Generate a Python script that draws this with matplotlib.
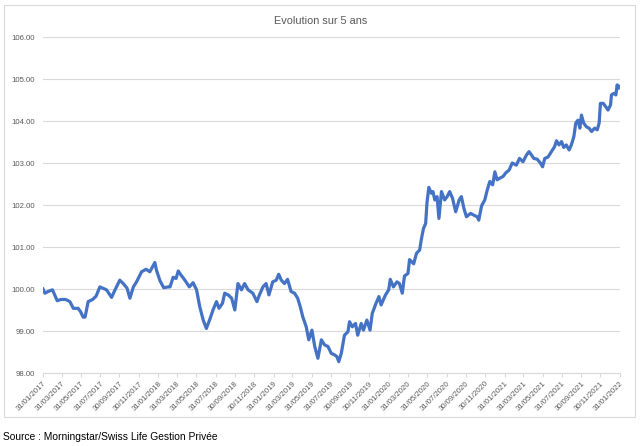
import matplotlib
matplotlib.use("Agg")
import matplotlib.pyplot as plt
from matplotlib.patches import Rectangle
import pandas as pd

plt.rcParams['font.family'] = ['Liberation Sans', 'DejaVu Sans']

# valeurs (base 100 au 31/01/2017)
dates = [
    "2017-01-31", "2017-02-06", "2017-02-16", "2017-03-02", "2017-03-06", "2017-03-17", "2017-03-28",
    "2017-04-13", "2017-04-26", "2017-05-07", "2017-05-22", "2017-05-30", "2017-06-07", "2017-06-13",
    "2017-06-23", "2017-07-07", "2017-07-18", "2017-07-30", "2017-08-08", "2017-08-20", "2017-09-05",
    "2017-09-16", "2017-10-01", "2017-10-12", "2017-10-24", "2017-11-02", "2017-11-13", "2017-11-23",
    "2017-12-09", "2017-12-23",
    "2018-01-04", "2018-01-20", "2018-01-25", "2018-02-05", "2018-02-17", "2018-03-03", "2018-03-09",
    "2018-03-19", "2018-03-28", "2018-04-04", "2018-04-11", "2018-04-25", "2018-05-09", "2018-05-21",
    "2018-06-01", "2018-06-11", "2018-06-22", "2018-07-02", "2018-07-13", "2018-07-23", "2018-08-03",
    "2018-08-11", "2018-08-22", "2018-08-29", "2018-09-09", "2018-09-20", "2018-09-30", "2018-10-10",
    "2018-10-21", "2018-10-31", "2018-11-11", "2018-11-26", "2018-12-09", "2018-12-17", "2018-12-28",
    "2019-01-07", "2019-01-16", "2019-01-28", "2019-02-08", "2019-02-16", "2019-02-24", "2019-03-06",
    "2019-03-16", "2019-03-27", "2019-04-07", "2019-04-17", "2019-04-25", "2019-05-03", "2019-05-14",
    "2019-05-22", "2019-06-01", "2019-06-10", "2019-06-20", "2019-07-01", "2019-07-11", "2019-07-22",
    "2019-08-01", "2019-08-12", "2019-08-19", "2019-08-25", "2019-09-02", "2019-09-12", "2019-09-23",
    "2019-09-28", "2019-10-07", "2019-10-17", "2019-10-24", "2019-11-04", "2019-11-11", "2019-11-22",
    "2019-12-02", "2019-12-09", "2019-12-21", "2019-12-30",
    "2020-01-06", "2020-01-20", "2020-01-30", "2020-02-04", "2020-02-14", "2020-02-25", "2020-03-04",
    "2020-03-13", "2020-03-20", "2020-03-31", "2020-04-05", "2020-04-18", "2020-04-27", "2020-05-07",
    "2020-05-12", "2020-05-19", "2020-05-26", "2020-05-30", "2020-06-05", "2020-06-13", "2020-06-18",
    "2020-06-24", "2020-07-01", "2020-07-07", "2020-07-15", "2020-07-25", "2020-08-02", "2020-08-10",
    "2020-08-19", "2020-08-29", "2020-09-09", "2020-09-16", "2020-09-24", "2020-10-02", "2020-10-15",
    "2020-10-25", "2020-11-05", "2020-11-10", "2020-11-19", "2020-11-29", "2020-12-07", "2020-12-15",
    "2020-12-24", "2020-12-31",
    "2021-01-07", "2021-01-16", "2021-01-26", "2021-02-04", "2021-02-14", "2021-02-24", "2021-03-09",
    "2021-03-19", "2021-03-30", "2021-04-10", "2021-04-18", "2021-04-26", "2021-05-03", "2021-05-14",
    "2021-05-24", "2021-05-31", "2021-06-07", "2021-06-17", "2021-06-28", "2021-07-08", "2021-07-14",
    "2021-07-22", "2021-07-30", "2021-08-06", "2021-08-14", "2021-08-23", "2021-08-30", "2021-09-07",
    "2021-09-13", "2021-09-20", "2021-09-26", "2021-10-01", "2021-10-08", "2021-10-17", "2021-10-25",
    "2021-11-02", "2021-11-12", "2021-11-20", "2021-11-26", "2021-11-30", "2021-12-09", "2021-12-17",
    "2021-12-24",
    "2022-01-01", "2022-01-04", "2022-01-12", "2022-01-18", "2022-01-22", "2022-01-25", "2022-01-28",
    "2022-01-31",
]
values = [
    100.00, 99.90, 99.94, 99.98, 99.91, 99.72, 99.75,
    99.75, 99.70, 99.54, 99.54, 99.46, 99.33, 99.33,
    99.70, 99.75, 99.83, 100.05, 100.02, 99.98, 99.80,
    99.98, 100.21, 100.13, 100.02, 99.78, 100.05, 100.17,
    100.41, 100.47,
    100.41, 100.63, 100.45, 100.20, 100.03, 100.05, 100.05,
    100.28, 100.25, 100.43, 100.35, 100.21, 100.05, 100.15,
    99.98, 99.58, 99.26, 99.06, 99.28, 99.50, 99.70,
    99.54, 99.66, 99.90, 99.86, 99.78, 99.50, 100.13,
    99.98, 100.13, 99.98, 99.90, 99.70, 99.86, 100.05,
    100.13, 99.86, 100.17, 100.21, 100.35, 100.21, 100.13,
    100.23, 99.94, 99.90, 99.78, 99.58, 99.34, 99.10,
    98.79, 99.02, 98.63, 98.35, 98.79, 98.67, 98.63,
    98.47, 98.43, 98.39, 98.27, 98.47, 98.90, 98.98,
    99.22, 99.10, 99.18, 98.90, 99.18, 99.02, 99.26,
    99.02, 99.42, 99.66, 99.82,
    99.62, 99.86, 99.98, 100.23, 100.05, 100.17, 100.13,
    99.90, 100.31, 100.37, 100.70, 100.60, 100.85, 100.93,
    101.17, 101.44, 101.56, 102.04, 102.42, 102.28, 102.32,
    102.12, 102.20, 101.68, 102.32, 102.12, 102.20, 102.32,
    102.16, 101.84, 102.12, 102.20, 101.92, 101.72, 101.80,
    101.76, 101.72, 101.64, 101.98, 102.12, 102.36, 102.56,
    102.48, 102.79,
    102.60, 102.64, 102.68, 102.77, 102.83, 103.00, 102.95,
    103.11, 103.03, 103.19, 103.27, 103.19, 103.11, 103.09,
    103.00, 102.91, 103.11, 103.14, 103.27, 103.39, 103.53,
    103.43, 103.51, 103.37, 103.43, 103.31, 103.43, 103.63,
    103.95, 104.02, 103.83, 104.14, 103.95, 103.86, 103.83,
    103.75, 103.83, 103.79, 103.95, 104.42, 104.42, 104.34,
    104.26,
    104.38, 104.62, 104.66, 104.62, 104.86, 104.78, 104.83,
    104.80,
]

tick_labels = [
    "31/01/2017", "31/03/2017", "31/05/2017", "31/07/2017", "30/09/2017", "30/11/2017",
    "31/01/2018", "31/03/2018", "31/05/2018", "31/07/2018", "30/09/2018", "30/11/2018",
    "31/01/2019", "31/03/2019", "31/05/2019", "31/07/2019", "30/09/2019", "30/11/2019",
    "31/01/2020", "31/03/2020", "31/05/2020", "31/07/2020", "30/09/2020", "30/11/2020",
    "31/01/2021", "31/03/2021", "31/05/2021", "31/07/2021", "30/09/2021", "30/11/2021",
    "31/01/2022",
]
y_ticks = [98, 99, 100, 101, 102, 103, 104, 105, 106]

df = pd.DataFrame({"date": pd.to_datetime(dates), "val": values})
tick_dates = pd.to_datetime(tick_labels, format="%d/%m/%Y")

fig = plt.figure(figsize=(6.4, 4.46), dpi=100)
ax = fig.add_axes([43 / 640, 1 - 373 / 446, 577 / 640, 336 / 446])

ax.plot(df["date"], df["val"], color="#4472C4", linewidth=2.3, solid_joinstyle="round")

ax.set_xlim(tick_dates[0], tick_dates[-1])
ax.set_ylim(98, 106)
ax.set_yticks(y_ticks)
ax.set_yticklabels([f"{v:.2f}" for v in y_ticks])
ax.set_xticks(tick_dates)
ax.set_xticklabels(tick_labels, rotation=45, ha="right", va="top", rotation_mode="anchor")

ax.grid(axis="y", color="#d9d9d9", linewidth=0.8)
ax.set_axisbelow(True)
for s in ["top", "right", "left"]:
    ax.spines[s].set_visible(False)
ax.spines["bottom"].set_color("#d9d9d9")
ax.spines["bottom"].set_linewidth(0.8)
ax.tick_params(axis="y", length=0, pad=6, labelsize=5.6, labelcolor="#595959")
ax.tick_params(axis="x", length=3, width=0.8, color="#d9d9d9", pad=2, labelsize=5.6, labelcolor="#595959")

# cadre du graphique + titre + source
fig.patches.append(Rectangle((4 / 640, 1 - 417 / 446), 631 / 640, 412 / 446,
                             transform=fig.transFigure, fill=False, edgecolor="#d9d9d9", linewidth=0.8))
fig.text(321 / 640, 1 - 21 / 446, "Evolution sur 5 ans", ha="center", va="center",
         fontsize=7.8, color="#595959")
fig.text(3 / 640, 1 - 437 / 446, "Source : Morningstar/Swiss Life Gestion Privée", ha="left", va="center",
         fontsize=7.4, color="black")

fig.savefig("out.png", dpi=100)
